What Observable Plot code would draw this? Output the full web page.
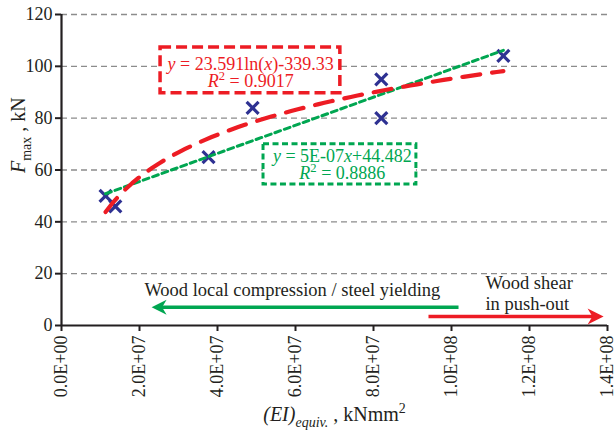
<!DOCTYPE html>
<html>
<head>
<meta charset="utf-8">
<script src="https://cdn.jsdelivr.net/npm/d3@7"></script>
<script src="https://cdn.jsdelivr.net/npm/@observablehq/plot@0.6"></script>
<style>
  html, body { margin: 0; padding: 0; background: #fff; }
  #chart { position: relative; width: 614px; height: 435px; }
  #labels { position: absolute; left: 0; top: 0; pointer-events: none; }
</style>
</head>
<body>
<div id="chart"></div>
<script>
// Push-out test results: maximum load vs. equivalent bending stiffness
const ei   = [1.13e7, 1.38e7, 3.77e7, 4.9e7, 8.2e7, 8.2e7, 1.133e8]; // kNmm²
const fmax = [50, 46, 65, 84, 95, 80, 104];                           // kN

// Logarithmic trend (coefficients from the fitted equation)
const logCoef = [23.591, -339.33];

const xTicks = [0, 2e7, 4e7, 6e7, 8e7, 1e8, 1.2e8, 1.4e8];
const yTicks = [0, 20, 40, 60, 80, 100, 120];

// Labels (simple inline markup: <i>, <sup>, <sub>)
const eqRed   = ["<i>y</i> = 23.591ln(<i>x</i>)-339.33", "<i>R</i><sup>2</sup> = 0.9017"];
const eqGreen = ["<i>y</i> = 5E-07<i>x</i>+44.482", "<i>R</i><sup>2</sup> = 0.8886"];
const noteLeft  = ["Wood local compression / steel yielding"];
const noteRight = ["Wood shear", "in push-out"];
const xTitle = ["<i>(EI)</i><sub><i>equiv.</i></sub> , kNmm<sup>2</sup>"];
const yTitle = ["<i>F</i><sub>max</sub> , kN"];

const FONT = "Liberation Serif";
const RED = "#ed1c24", GREEN = "#00a651", NAVY = "#2e3192", INK = "#231f20";

const points = ei.map((x, i) => ({x, y: fmax[i]}));
const [xmin, xmax] = d3.extent(ei);
const logCurve = d3.range(61).map(i => {
  const x = xmin + (xmax - xmin) * i / 60;
  return {x, y: logCoef[0] * Math.log(x) + logCoef[1]};
});

// Filled, barbed arrowheads with the tip at the origin
const headRight = {draw(ctx, size) {
  const r = Math.sqrt(size / Math.PI);
  ctx.moveTo(0, 0); ctx.lineTo(-2 * r, -r); ctx.lineTo(-1.4 * r, 0); ctx.lineTo(-2 * r, r); ctx.closePath();
}};
const headLeft = {draw(ctx, size) {
  const r = Math.sqrt(size / Math.PI);
  ctx.moveTo(0, 0); ctx.lineTo(2 * r, -r); ctx.lineTo(1.4 * r, 0); ctx.lineTo(2 * r, r); ctx.closePath();
}};

function sci(d) {
  if (d === 0) return "0.0E+00";
  const e = Math.floor(Math.log10(d) + 1e-9);
  return (d / 10 ** e).toFixed(1) + "E+" + String(e).padStart(2, "0");
}

const plot = Plot.plot({
  width: 614,
  height: 435,
  marginLeft: 61,
  marginRight: 7,
  marginTop: 14,
  marginBottom: 110,
  style: {background: "#fff", color: INK, overflow: "visible"},
  x: {domain: [0, 1.4e8], label: null},
  y: {domain: [0, 120], label: null},
  marks: [
    Plot.ruleY(yTicks.filter(d => d > 0), {stroke: "#8c8c8c", strokeWidth: 1.4, strokeDasharray: "6,4"}),
    Plot.axisY(yTicks, {tickSize: 6, tickPadding: 3, strokeWidth: 2, fontSize: 18, label: null}),
    Plot.axisX(xTicks, {tickSize: 6, tickPadding: 4, tickRotate: -90, tickFormat: sci, strokeWidth: 2, fontSize: 18, label: null}),
    Plot.ruleX([0], {stroke: INK, strokeWidth: 2.2}),
    Plot.ruleY([0], {stroke: INK, strokeWidth: 2.2}),

    // measurements
    Plot.dot(points, {x: "x", y: "y", symbol: "times", r: 5.5, stroke: NAVY, strokeWidth: 3.2}),

    // trend lines
    Plot.linearRegressionY(points, {x: "x", y: "y", ci: 0, stroke: GREEN, strokeWidth: 3, strokeDasharray: "6,4"}),
    Plot.line(logCurve, {x: "x", y: "y", stroke: RED, strokeWidth: 4.2, strokeDasharray: "18,12", strokeLinecap: "round"}),

    // equation boxes
    Plot.rect([0], {x1: 2.54e7, x2: 7.15e7, y1: 89.6, y2: 107.3, fill: "#fff", stroke: RED, strokeWidth: 3.5, strokeDasharray: "11,5"}),
    Plot.text(eqRed, {x: 4.85e7, y: (d, i) => [101, 94.3][i], text: d => d, fill: RED, fontSize: 18}),
    Plot.rect([0], {x1: 5.18e7, x2: 9.10e7, y1: 54.4, y2: 69.9, fill: "#fff", stroke: GREEN, strokeWidth: 3, strokeDasharray: "6,3.5"}),
    Plot.text(eqGreen, {x: 7.2e7, y: (d, i) => [65.2, 58.6][i], text: d => d, fill: GREEN, fontSize: 18}),

    // failure-mode annotations
    Plot.text(noteLeft, {x: 5.92e7, y: 13.6, text: d => d, fill: INK, fontSize: 18.5}),
    Plot.link([0], {x1: 1.018e8, x2: 2.5e7, y1: 7, y2: 7, stroke: GREEN, strokeWidth: 3.5}),
    Plot.dot([0], {x: 2.31e7, y: 7, symbol: headLeft, r: 7.5, fill: GREEN, stroke: "none"}),
    Plot.text(noteRight, {x: 1.087e8, y: (d, i) => [16.3, 8.4][i], text: d => d, textAnchor: "start", fill: INK, fontSize: 18.5}),
    Plot.link([0], {x1: 9.41e7, x2: 1.365e8, y1: 3.5, y2: 3.5, stroke: RED, strokeWidth: 3.5}),
    Plot.dot([0], {x: 1.39e8, y: 3.5, symbol: headRight, r: 8, fill: RED, stroke: "none"}),

    // axis titles
    Plot.text(xTitle, {frameAnchor: "bottom", dy: 95, text: d => d, fontSize: 20, fill: INK}),
    Plot.text(yTitle, {frameAnchor: "left", dx: -43, dy: 3, rotate: -90, text: d => d, fontSize: 20, fill: INK})
  ]
});

// Turn the inline markup into italic / superscript / subscript tspans
d3.select(plot).selectAll("text")
  .filter(function () { return /<(i|sub|sup)>/.test(this.textContent); })
  .each(function () {
    const el = d3.select(this);
    const src = this.textContent;
    el.text(null);
    let shift = 0;
    src.split(/(<sub><i>.*?<\/i><\/sub>|<i>.*?<\/i>|<sup>.*?<\/sup>|<sub>.*?<\/sub>)/).filter(s => s).forEach(part => {
      let t = part, italic = false, dyTo = 0, small = false;
      if (t.startsWith("<sub>")) { t = t.slice(5, -6); dyTo = 0.3; small = true; }
      else if (t.startsWith("<sup>")) { t = t.slice(5, -6); dyTo = -0.4; small = true; }
      if (t.startsWith("<i>")) { t = t.slice(3, -4); italic = true; }
      const ts = el.append("tspan").text(t);
      if (italic) ts.attr("font-style", "italic");
      if (small) ts.attr("font-size", "70%");
      const delta = dyTo - shift;
      if (delta !== 0) ts.attr("dy", (small ? delta / 0.7 : delta) + "em");
      shift = dyTo;
    });
  });

const chart = document.getElementById("chart");
chart.append(plot);

// Lift every label into a plain SVG layer on top, set in the serif face
const layer = d3.select(chart).append("svg")
  .attr("id", "labels")
  .attr("width", 614)
  .attr("height", 435)
  .attr("font-family", FONT);

d3.select(plot).selectAll("text").each(function () {
  const m = this.getCTM();
  const cs = getComputedStyle(this);
  const c = this.cloneNode(true);
  c.setAttribute("transform", `matrix(${m.a},${m.b},${m.c},${m.d},${m.e},${m.f})`);
  c.setAttribute("font-size", cs.fontSize);
  c.setAttribute("fill", cs.fill);
  c.setAttribute("text-anchor", cs.textAnchor);
  c.setAttribute("font-family", FONT);
  c.removeAttribute("aria-label");
  layer.node().append(c);
  this.remove();
});
</script>
</body>
</html>
